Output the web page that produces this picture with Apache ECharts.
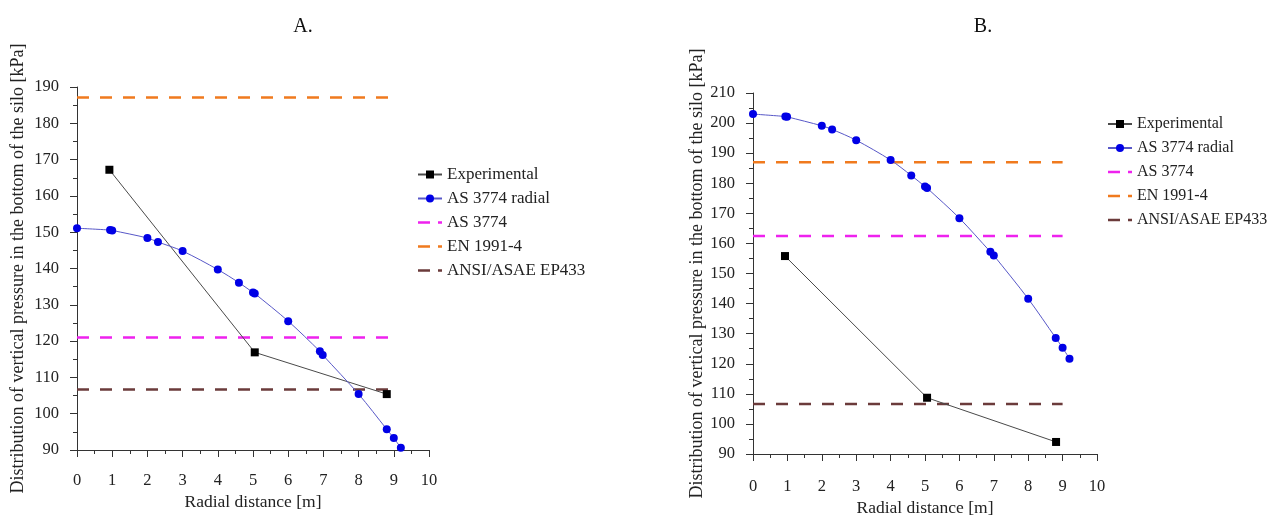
<!DOCTYPE html>
<html><head><meta charset="utf-8">
<script src="https://cdn.jsdelivr.net/npm/echarts@6/dist/echarts.min.js"></script>
<style>html,body{margin:0;padding:0;background:#fff}#c{width:1272px;height:515px}</style>
</head><body><div id="c"></div>
<script>
// Chart A data
const expA_x = [0.92, 5.05, 8.8];
const expA_y = [167.2, 116.9, 105.4];
const radA_x = [0, 0.94, 1.0, 2.0, 2.3, 3.0, 4.0, 4.6, 5.0, 5.05, 6.0, 6.9, 6.98, 8.0, 8.8, 9.0, 9.2];
const radA_y = [151.1, 150.6, 150.5, 148.4, 147.3, 144.8, 139.7, 136.1, 133.4, 133.1, 125.5, 117.2, 116.2, 105.4, 95.7, 93.3, 90.6];
const refA = { as: 121.0, en: 187.1, ansi: 106.7 };
// Chart B data
const expB_x = [0.93, 5.06, 8.81];
const expB_y = [155.8, 108.7, 94.0];
const radB_x = [0, 0.94, 0.99, 2.0, 2.3, 3.0, 4.0, 4.6, 5.0, 5.06, 6.0, 6.9, 7.0, 8.0, 8.8, 9.0, 9.2];
const radB_y = [203.0, 202.2, 202.1, 199.1, 197.9, 194.3, 187.7, 182.6, 178.9, 178.4, 168.4, 157.2, 156.0, 141.6, 128.6, 125.3, 121.7];
const refB = { as: 162.5, en: 187.0, ansi: 106.6 };
const refX = [0, 9];
const names = ['Experimental', 'AS 3774 radial', 'AS 3774', 'EN 1991-4', 'ANSI/ASAE EP433'];
const titles = ['A.', 'B.'];
const xName = 'Radial distance [m]';
const yName = 'Distribution of vertical pressure in the bottom of the silo [kPa]';

const FONT = 'Liberation Serif';
const colors = { exp: '#000000', expLine: '#4a4a4a', rad: '#0000e6', radLine: '#5858c8', as: '#ee22ee', en: '#f07a1e', ansi: '#6b3b3b' };
const DASH_ICON = 'path://M0,0L0,0M0,3.8H12V6.2H0ZM20,3.8H24V6.2H20ZM24,10L24,10';
const pair = (xs, ys) => xs.map((x, i) => [x, ys[i]]);
const refLine = (v) => refX.map(x => [x, v]);

function xAxis(gi, gap, margin) {
  return {
    type: 'value', gridIndex: gi, min: 0, max: 10, interval: 1,
    name: xName, nameLocation: 'middle', nameGap: gap,
    nameTextStyle: { fontFamily: FONT, fontSize: 17.5, color: '#222' },
    axisLine: { show: true, lineStyle: { color: '#333', width: 1 } },
    axisTick: { show: true, length: 7, lineStyle: { color: '#333' } },
    minorTick: { show: true, splitNumber: 2, length: 4, lineStyle: { color: '#333' } },
    axisLabel: { fontFamily: FONT, fontSize: 16.5, color: '#222', margin: margin },
    splitLine: { show: false }
  };
}
function yAxis(gi, min, max, gap) {
  return {
    type: 'value', gridIndex: gi, min: min, max: max, interval: 10,
    name: yName, nameLocation: 'middle', nameGap: gap,
    nameTextStyle: { fontFamily: FONT, fontSize: 18, color: '#222' },
    axisLine: { show: true, lineStyle: { color: '#333', width: 1 } },
    axisTick: { show: true, length: 7, lineStyle: { color: '#333' } },
    minorTick: { show: true, splitNumber: 2, length: 4, lineStyle: { color: '#333' } },
    axisLabel: { fontFamily: FONT, fontSize: 16.5, color: '#222', margin: 18 },
    splitLine: { show: false }
  };
}
function seriesFor(gi, expX, expY, radX, radY, ref) {
  const base = { xAxisIndex: gi, yAxisIndex: gi, animation: false };
  const dash = (name, v, c) => Object.assign({}, base, {
    name: name, type: 'line', data: refLine(v), symbol: 'none',
    lineStyle: { color: c, width: 2.5, type: [12, 11] }, itemStyle: { color: c }
  });
  return [
    dash(names[2], ref.as, colors.as),
    dash(names[3], ref.en, colors.en),
    dash(names[4], ref.ansi, colors.ansi),
    Object.assign({}, base, {
      name: names[0], type: 'line', data: pair(expX, expY), symbol: 'rect', symbolSize: 8,
      itemStyle: { color: colors.exp }, lineStyle: { color: colors.expLine, width: 1 }
    }),
    Object.assign({}, base, {
      name: names[1], type: 'line', data: pair(radX, radY), symbol: 'circle', symbolSize: 8,
      smooth: 0.3,
      itemStyle: { color: colors.rad }, lineStyle: { color: colors.radLine, width: 1 }
    })
  ];
}
function legend(left, top, fs, gap) {
  return {
    left: left, top: top, orient: 'vertical', itemWidth: 24, itemHeight: 10, itemGap: gap,
    textStyle: { fontFamily: FONT, fontSize: fs, color: '#222' },
    data: [
      { name: names[0] },
      { name: names[1] },
      { name: names[2], icon: DASH_ICON },
      { name: names[3], icon: DASH_ICON },
      { name: names[4], icon: DASH_ICON }
    ]
  };
}

const chart = echarts.init(document.getElementById('c'));
chart.setOption({
  backgroundColor: '#fff',
  animation: false,
  title: [
    { text: titles[0], left: 298, top: 12, textAlign: 'center', textStyle: { fontFamily: FONT, fontSize: 20, fontWeight: 'normal', color: '#111' } },
    { text: titles[1], left: 978, top: 12, textAlign: 'center', textStyle: { fontFamily: FONT, fontSize: 20, fontWeight: 'normal', color: '#111' } }
  ],
  grid: [
    { left: 77, top: 87, width: 352, height: 363, outerBoundsMode: 'none', containLabel: false },
    { left: 753, top: 93, width: 344, height: 361, outerBoundsMode: 'none', containLabel: false }
  ],
  xAxis: [xAxis(0, 30, 22), xAxis(1, 42, 24)],
  yAxis: [yAxis(0, 90, 190, 50), yAxis(1, 90, 210, 44)],
  legend: [legend(412, 161, 17, 7), legend(1102, 111, 16, 8)],
  series: [].concat(
    seriesFor(0, expA_x, expA_y, radA_x, radA_y, refA),
    seriesFor(1, expB_x, expB_y, radB_x, radB_y, refB)
  )
});
</script></body></html>
